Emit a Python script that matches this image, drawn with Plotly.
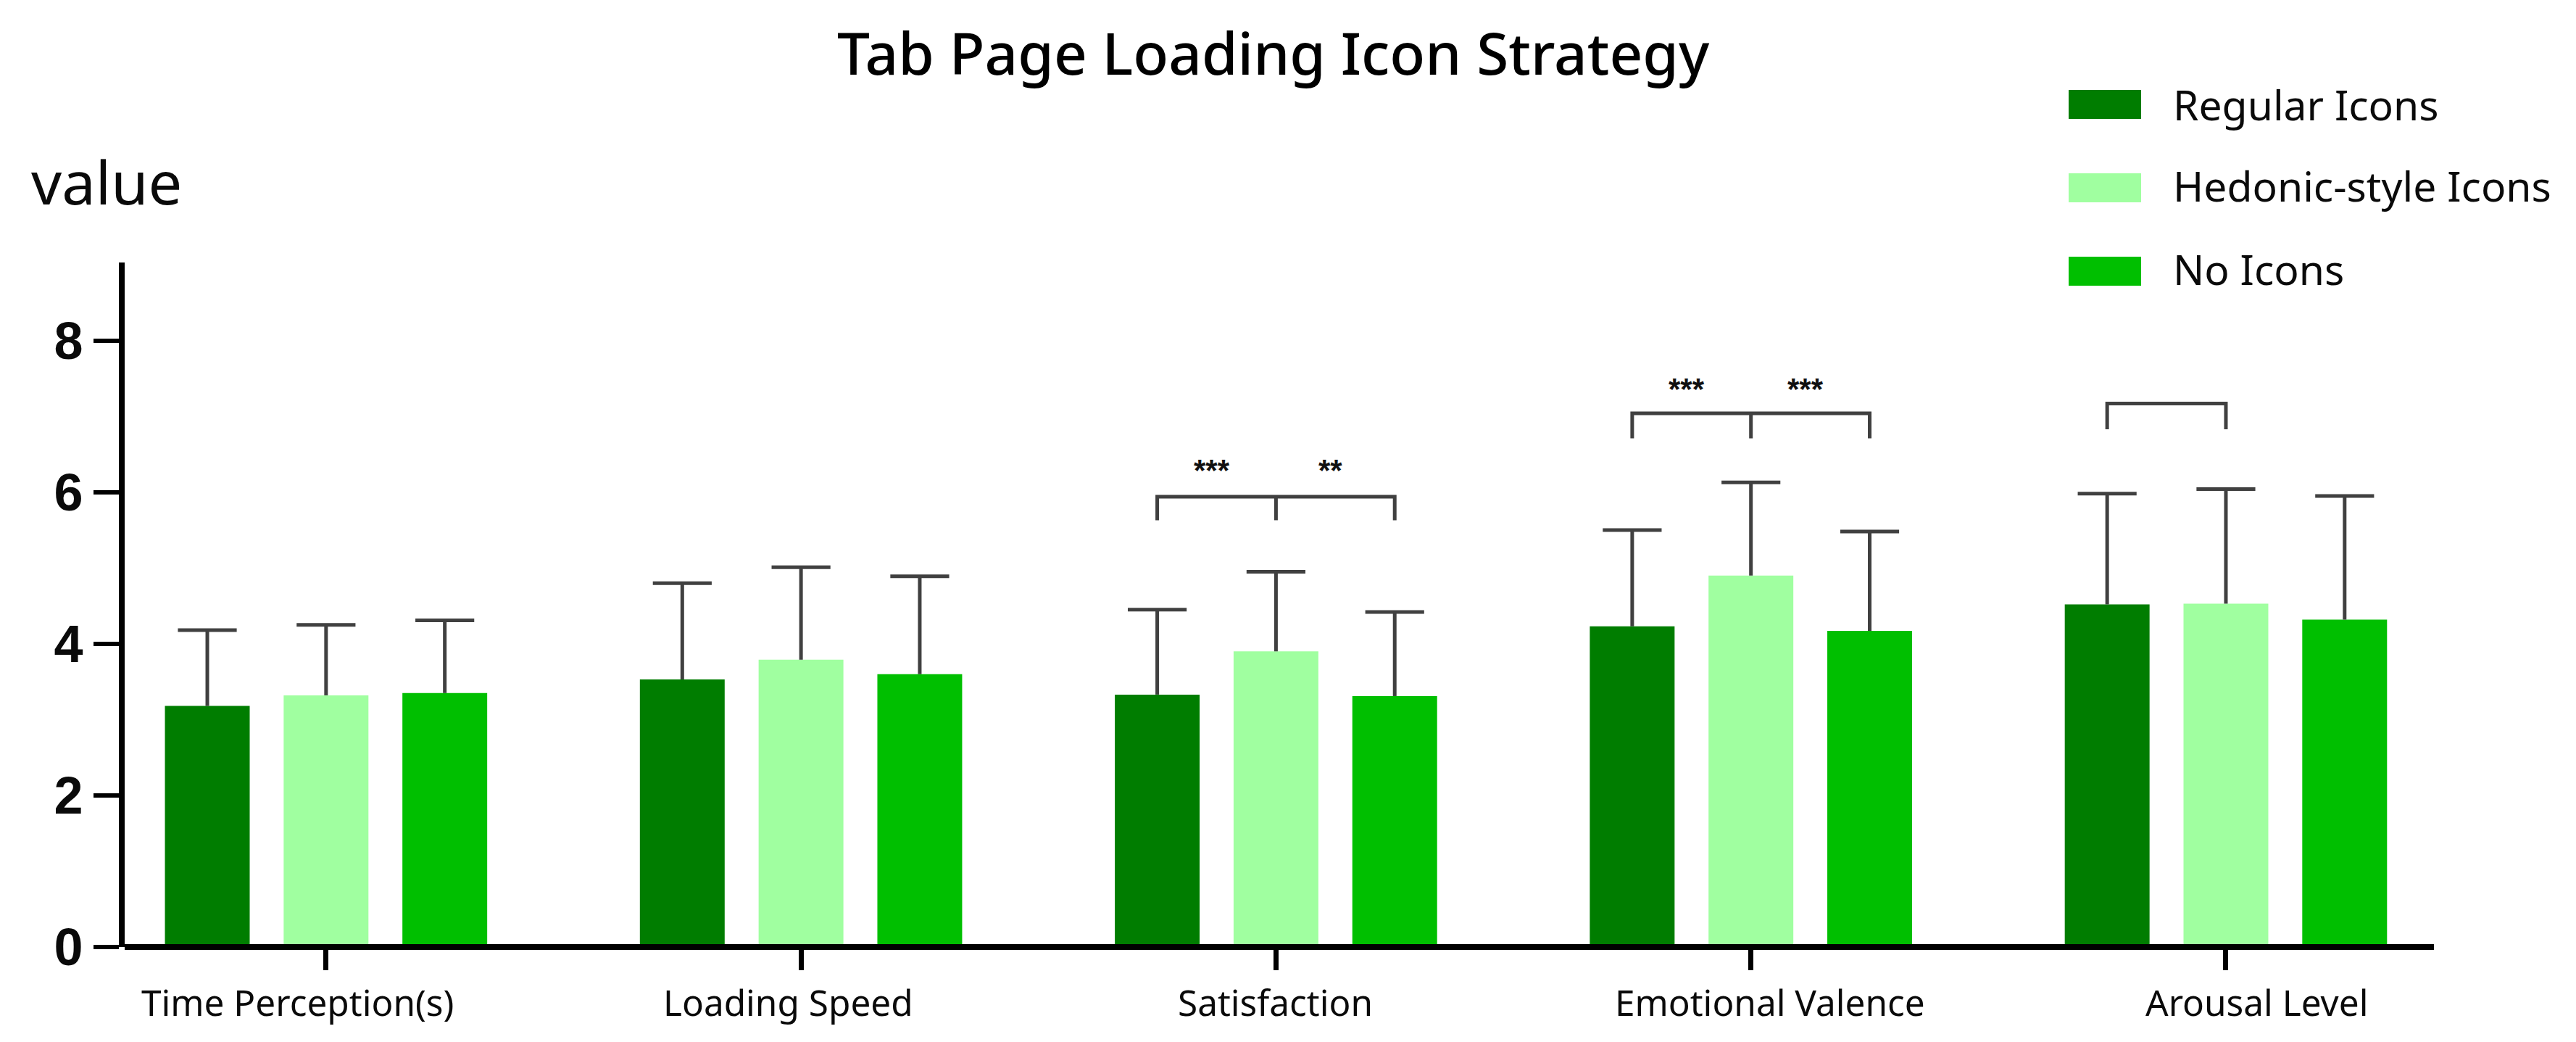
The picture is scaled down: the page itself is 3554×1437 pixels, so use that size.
import plotly.graph_objects as go

title = "Tab Page Loading Icon Strategy"
y_label = "value"
categories = ["Time Perception(s)", "Loading Speed", "Satisfaction", "Emotional Valence", "Arousal Level"]
series_names = ["Regular Icons", "Hedonic-style Icons", "No Icons"]
colors = ["#007D00", "#A0FFA0", "#00BF00"]

regular = [3.18, 3.53, 3.33, 4.23, 4.52]
hedonic = [3.32, 3.79, 3.90, 4.90, 4.53]
no_icons = [3.35, 3.60, 3.31, 4.17, 4.32]

regular_top = [4.18, 4.80, 4.45, 5.50, 5.98]
hedonic_top = [4.25, 5.01, 4.95, 6.13, 6.04]
no_icons_top = [4.31, 4.89, 4.42, 5.48, 5.95]

y_ticks = [0, 2, 4, 6, 8]
bracket_groups = [2, 3, 4]
bracket_tops = [5.94, 7.04, 7.17]
bracket_bottoms = [5.63, 6.71, 6.83]
bracket_offsets = [[-0.25, 0, 0.25], [-0.25, 0, 0.25], [-0.25, 0]]
star_text = [["***", "**"], ["***", "***"], []]
star_offsets = [[-0.135, 0.115], [-0.135, 0.115], []]
star_values = [6.35, 7.42, 0]
label_shift_px = [-39, -18, -1, 26, 43]
bar_offsets = [-0.25, 0, 0.25]

W, H = 3554, 1437
L, R, T, B = 172, 196, 362, 131


def px(x):
    return (x - L) / (W - L - R)


def py(y):
    return (H - B - y) / (H - T - B)


fig = go.Figure()
for name, vals, tops, col, off in zip(series_names, [regular, hedonic, no_icons],
                                      [regular_top, hedonic_top, no_icons_top], colors, bar_offsets):
    fig.add_trace(go.Bar(
        x=list(range(len(categories))), y=vals, name=name, marker=dict(color=col, line=dict(width=0)),
        error_y=dict(type="data", symmetric=False, array=[t - v for t, v in zip(tops, vals)],
                     arrayminus=[0] * len(vals), color="#404040", thickness=5, width=0),
        showlegend=False,
    ))
    fig.add_trace(go.Scatter(
        x=[i + off for i in range(len(categories))], y=tops, mode="markers", showlegend=False, hoverinfo="skip",
        marker=dict(symbol="line-ew", size=58, line=dict(color="#404040", width=5)),
    ))

for g, top, bot, offs in zip(bracket_groups, bracket_tops, bracket_bottoms, bracket_offsets):
    xs = [g + offs[0], g + offs[0], g + offs[-1], g + offs[-1]]
    ys = [bot, top, top, bot]
    if len(offs) == 3:
        xs += [None, g + offs[1], g + offs[1]]
        ys += [None, top, bot]
    fig.add_trace(go.Scatter(x=xs, y=ys, mode="lines", line=dict(color="#404040", width=5),
                             showlegend=False, hoverinfo="skip"))

annotations = []
for g, txts, offs, val in zip(bracket_groups, star_text, star_offsets, star_values):
    for t, o in zip(txts, offs):
        annotations.append(dict(x=g + o, y=val, xref="x", yref="y", text=f"<b>{t}</b>", showarrow=False,
                                font=dict(family="Liberation Sans", size=42, color="#111111"),
                                yanchor="middle", yshift=-6))

for i, (c, s) in enumerate(zip(categories, label_shift_px)):
    annotations.append(dict(x=i, y=0, xref="x", yref="paper", text=c, showarrow=False, xshift=s, yshift=-76,
                            yanchor="middle", font=dict(family="Noto Sans", size=49.5, color="#0a0a0a")))

annotations.append(dict(x=px(1757), y=py(71), xref="paper", yref="paper", text=title, showarrow=False,
                        yanchor="middle", font=dict(family="Noto Sans", size=80, color="#000000", weight=500)))
annotations.append(dict(x=px(41), y=py(249), xref="paper", yref="paper", text=y_label, showarrow=False,
                        xanchor="left", yanchor="middle", font=dict(family="Noto Sans", size=83, color="#0a0a0a")))

shapes = [dict(type="line", xref="paper", yref="paper", x0=0, x1=1, y0=0, y1=0, layer="above",
               line=dict(color="black", width=8))]
for name, col, cy, ty in zip(series_names, colors, [144, 259, 374], [144, 256, 371]):
    shapes.append(dict(type="rect", xref="paper", yref="paper", x0=px(2854), x1=px(2954),
                       y0=py(cy + 20), y1=py(cy - 20), fillcolor=col, line=dict(width=0)))
    annotations.append(dict(x=px(2996), y=py(ty), xref="paper", yref="paper", text=name, showarrow=False,
                            xanchor="left", yanchor="middle", font=dict(family="Noto Sans", size=57, color="#0a0a0a")))

fig.update_layout(
    width=W, height=H, margin=dict(l=L, r=R, t=T, b=B, autoexpand=False),
    paper_bgcolor="white", plot_bgcolor="white", barmode="group", bargap=0.25, bargroupgap=0.286,
    annotations=annotations, shapes=shapes, showlegend=False,
    xaxis=dict(range=[-0.424, 4.438], tickvals=list(range(len(categories))), ticktext=[""] * len(categories),
               showgrid=False, zeroline=False, showline=False,
               ticks="outside", ticklen=31, tickwidth=7, tickcolor="black"),
    yaxis=dict(range=[0, 9.03], tickvals=y_ticks, showgrid=False, zeroline=False, showline=True, linecolor="black",
               linewidth=8, ticks="outside", ticklen=35, tickwidth=6, tickcolor="black",
               tickfont=dict(family="Liberation Sans", size=72, color="#0a0a0a", weight="bold")),
)
fig.write_html("out.html", post_script="document.body.style.margin='0';",
               config={"displayModeBar": False})
